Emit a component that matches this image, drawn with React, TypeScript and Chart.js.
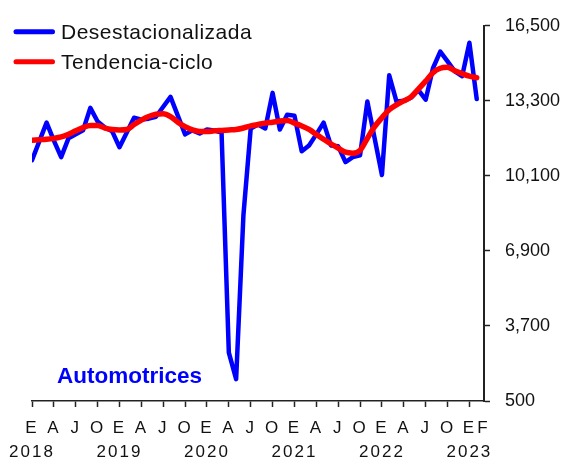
import { useEffect, useRef } from 'react';
import { Chart, registerables } from 'chart.js';

Chart.register(...registerables);

// ---- Data ----
const years = ['2018', '2019', '2020', '2021', '2022', '2023'];
const monthInitials = ['E', 'F', 'M', 'A', 'M', 'J', 'J', 'A', 'S', 'O', 'N', 'D'];
const labelledMonthIdx = [0, 3, 6, 9]; // E A J O
const yTicks = [500, 3700, 6900, 10100, 13300, 16500];

const desestacionalizada = [
  10770, 11570, 12370, 11600, 10900, 11700, 11870, 12040, 13000, 12420, 12160, 12000,
  11320, 11950, 12580, 12500, 12540, 12620, 13050, 13470, 12670, 11870, 12040, 11910,
  12080, 12040, 11950, 2560, 1430, 8420, 12120, 12290, 12120, 13640, 12080, 12710,
  12670, 11150, 11400, 11870, 12370, 11400, 11360, 10690, 10900, 10980, 13270, 11700,
  10140, 14390, 13270, 13300, 13430, 13760, 13350, 14690, 15400, 14980, 14560, 14350,
  15780, 13380,
];

const tendenciaCiclo = [
  11620, 11640, 11660, 11700, 11760, 11870, 12020, 12160, 12250, 12250, 12140, 12080,
  12060, 12080, 12290, 12480, 12630, 12730, 12750, 12630, 12390, 12200, 12060, 11990,
  11990, 12020, 12040, 12060, 12080, 12140, 12230, 12290, 12350, 12390, 12440, 12460,
  12350, 12230, 12080, 11870, 11660, 11470, 11280, 11110, 11070, 11190, 11700, 12200,
  12580, 12920, 13130, 13300, 13470, 13800, 14140, 14500, 14690, 14730, 14580, 14460,
  14350, 14290,
];

const seriesNames = ['Desestacionalizada', 'Tendencia-ciclo'];
const seriesColors = ['#0000FF', '#FF0000'];
const chartTitle = 'Automotrices';

const categories = years
  .flatMap((y) => monthInitials.map((m) => ({ year: y, month: m })))
  .slice(0, desestacionalizada.length);

const FONT = '"Liberation Sans", Arial, Helvetica, sans-serif';

function tickLabel(value: number): string | string[] {
  if (!Number.isInteger(value)) return '';
  const c = categories[value];
  if (!c) return '';
  if (value === categories.length - 1) return '  ' + c.month;
  const mi = value % 12;
  if (!labelledMonthIdx.includes(mi)) return '';
  return mi === 0 ? [c.month, c.year] : c.month;
}

const overlayPlugin = {
  id: 'overlay',
  beforeDraw(chart: any) {
    const xs = chart.scales.x;
    if (xs && !xs.__wrapped) {
      const orig = xs.drawLabels.bind(xs);
      xs.drawLabels = (area: any) => {
        const c = chart.ctx;
        c.save();
        try { (c as any).letterSpacing = '2px'; } catch (e) {}
        orig(area);
        c.restore();
      };
      xs.__wrapped = true;
    }
  },
  afterDraw(chart: any) {
    const ctx = chart.ctx as CanvasRenderingContext2D;
    ctx.save();
    // Legend
    const order = [0, 1];
    order.forEach((k, row) => {
      const ds = chart.data.datasets[k];
      const ly = 31.7 + row * 30;
      ctx.strokeStyle = ds.borderColor;
      ctx.lineWidth = 5;
      ctx.lineCap = 'round';
      ctx.beginPath();
      ctx.moveTo(16, ly);
      ctx.lineTo(52.5, ly);
      ctx.stroke();
      ctx.fillStyle = '#111';
      ctx.font = `21px ${FONT}`;
      try { (ctx as any).letterSpacing = '0.5px'; } catch (e) {}
      ctx.textBaseline = 'alphabetic';
      ctx.textAlign = 'left';
      ctx.fillText(ds.label, 61, ly + 7);
    });
    try { (ctx as any).letterSpacing = '0px'; } catch (e) {}
    // Title
    ctx.font = `bold 22.5px ${FONT}`;
    ctx.fillStyle = '#0000FF';
    ctx.textBaseline = 'alphabetic';
    ctx.textAlign = 'left';
    ctx.fillText(chartTitle, 57, 382.5);
    ctx.restore();
  },
};

export default function App() {
  const ref = useRef<HTMLCanvasElement | null>(null);

  useEffect(() => {
    if (!ref.current) return;
    const chart = new Chart(ref.current, {
      type: 'line',
      data: {
        datasets: [
          {
            label: seriesNames[0],
            data: desestacionalizada.map((y, i) => ({ x: i, y })),
            borderColor: seriesColors[0],
            backgroundColor: seriesColors[0],
            borderWidth: 4.5,
            pointRadius: 0,
            tension: 0,
            borderJoinStyle: 'round',
            borderCapStyle: 'round',
            order: 1,
          },
          {
            label: seriesNames[1],
            data: tendenciaCiclo.map((y, i) => ({ x: i, y })),
            borderColor: seriesColors[1],
            backgroundColor: seriesColors[1],
            borderWidth: 5.5,
            pointRadius: 0,
            tension: 0.4,
            cubicInterpolationMode: 'monotone',
            borderJoinStyle: 'round',
            borderCapStyle: 'round',
            order: 0,
          },
        ],
      },
      options: {
        responsive: false,
        animation: false,
        devicePixelRatio: 1,
        layout: { padding: { left: 32, top: 21, right: 0, bottom: 0 } },
        plugins: {
          legend: { display: false },
          tooltip: { enabled: false },
          title: { display: false },
        },
        scales: {
          x: {
            type: 'linear',
            min: 0,
            max: categories.length,
            afterFit: (s: any) => { s.height = 60; },
            grid: {
              display: true,
              drawOnChartArea: false,
              drawTicks: true,
              tickLength: 6,
              tickWidth: 1.5,
              tickColor: (c: any) => {
                const v = c.tick ? c.tick.value : -1;
                return v % 3 === 0 && v <= categories.length - 2 ? '#222' : 'rgba(0,0,0,0)';
              },
            },
            border: { display: true, color: '#222', width: 1.5 },
            ticks: {
              stepSize: 1,
              autoSkip: false,
              maxRotation: 0,
              minRotation: 0,
              maxTicksLimit: 200,
              padding: 9,
              color: '#111',
              font: { family: FONT, size: 17, lineHeight: '24px' } as any,
              callback: (v: any) => tickLabel(Number(v)),
            },
          },
          y: {
            type: 'linear',
            position: 'right',
            min: yTicks[0],
            max: yTicks[yTicks.length - 1],
            afterFit: (s: any) => { s.width = 86; },
            afterBuildTicks: (s: any) => { s.ticks = yTicks.map((v) => ({ value: v })); },
            grid: {
              display: true,
              drawOnChartArea: false,
              drawTicks: true,
              tickLength: 6,
              tickWidth: 1.5,
              tickColor: '#222',
            },
            border: { display: true, color: '#222', width: 2 },
            ticks: {
              padding: 15,
              color: '#111',
              font: { family: FONT, size: 18 },
              callback: (v: any) => Number(v).toLocaleString('en-US'),
            },
          },
        },
      },
      plugins: [overlayPlugin],
    } as any);
    return () => chart.destroy();
  }, []);

  return (
    <div style={{ position: 'absolute', left: 0, top: 0, width: 570, height: 461, background: '#fff' }}>
      <canvas ref={ref} width={570} height={461} style={{ width: 570, height: 461, display: 'block' }} />
    </div>
  );
}
